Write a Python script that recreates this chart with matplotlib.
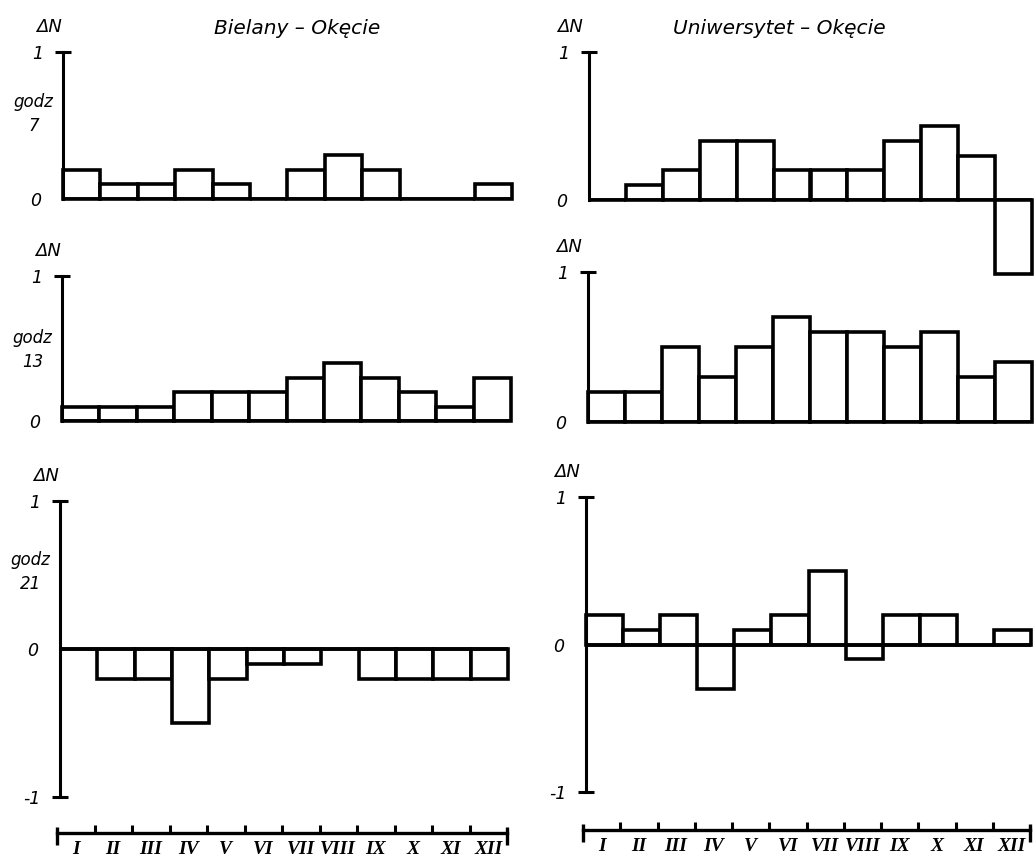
import numpy as np
import matplotlib
matplotlib.use("Agg")
import matplotlib.pyplot as plt

# monthly differences of cloudiness (delta N)
months = ["I", "II", "III", "IV", "V", "VI", "VII", "VIII", "IX", "X", "XI", "XII"]
bielany_7 = [0.2, 0.1, 0.1, 0.2, 0.1, 0.0, 0.2, 0.3, 0.2, 0.0, 0.0, 0.1]
bielany_13 = [0.1, 0.1, 0.1, 0.2, 0.2, 0.2, 0.3, 0.4, 0.3, 0.2, 0.1, 0.3]
bielany_21 = [0.0, -0.2, -0.2, -0.5, -0.2, -0.1, -0.1, 0.0, -0.2, -0.2, -0.2, -0.2]
uniw_7 = [0.0, 0.1, 0.2, 0.4, 0.4, 0.2, 0.2, 0.2, 0.4, 0.5, 0.3, -0.5]
uniw_13 = [0.2, 0.2, 0.5, 0.3, 0.5, 0.7, 0.6, 0.6, 0.5, 0.6, 0.3, 0.4]
uniw_21 = [0.2, 0.1, 0.2, -0.3, 0.1, 0.2, 0.5, -0.1, 0.2, 0.2, 0.0, 0.1]
titles = ["Bielany – Okęcie", "Uniwersytet – Okęcie"]
hours = ["7", "13", "21"]

W, H = 1034, 864
fig = plt.figure(figsize=(W / 100, H / 100), dpi=100)
txt = dict(family="DejaVu Sans", style="italic", fontsize=12, color="black")
LW = 2.6


def px_axes(x0, x1, ytop, ybot):
    return fig.add_axes([x0 / W, 1 - ybot / H, (x1 - x0) / W, (ybot - ytop) / H])


def panel(ax, vals, bottom_panel, dn_dx):
    x = np.arange(len(vals))
    ax.bar(x, vals, width=1, align="edge", color="white", edgecolor="black",
           linewidth=LW, clip_on=False, zorder=2)
    ax.axhline(0, color="black", lw=LW, zorder=3, solid_capstyle="butt")
    ax.set_xlim(0, 12)
    if bottom_panel:
        ax.set_ylim(-1, 1)
        ax.set_yticks([-1, 1], labels=["-1", "1"])
    else:
        ax.set_ylim(0, 1)
        ax.set_yticks([1], labels=["1"])
    ax.set_yticks([0], labels=["0"], minor=True)
    for s in ["top", "right", "bottom"]:
        ax.spines[s].set_visible(False)
    ax.spines["left"].set_linewidth(2.2)
    ax.spines["left"].set_bounds(*ax.get_ylim())
    ax.set_xticks([])
    ax.tick_params(axis="y", which="major", direction="inout", length=12,
                   width=2.2, pad=8)
    ax.tick_params(axis="y", which="minor", length=0, pad=16)
    for lab in ax.get_yticklabels() + ax.get_yticklabels(minor=True):
        lab.set_fontstyle("italic")
        lab.set_fontsize(12.5)
    ax.annotate("ΔN", xy=(0, 1), xycoords=("axes fraction", "data"),
                xytext=(dn_dx, 18), textcoords="offset points",
                ha="right", va="center", **{**txt, "fontsize": 13})
    ax.patch.set_visible(False)


# pixel geometry of panels: (x0, x1, y of +1, y of 0 or -1)
left = [(63, 512, 52, 199), (62, 511, 276, 421), (60, 508, 501, 797)]
right = [(589, 1032, 52, 200), (588, 1032, 272, 422), (586, 1031, 497, 792)]
data_left = [bielany_7, bielany_13, bielany_21]
data_right = [uniw_7, uniw_13, uniw_21]
godz_y = [0.58, 0.49, 0.76]

for col, (geo, datas) in enumerate([(left, data_left), (right, data_right)]):
    for i, (g, vals) in enumerate(zip(geo, datas)):
        ax = px_axes(*g)
        panel(ax, vals, i == 2, -1 if col == 0 else -4)
        if col == 0:
            ax.text(-0.066, godz_y[i], "godz\n" + hours[i], transform=ax.transAxes,
                    ha="center", va="center", linespacing=1.45, **txt)

title_kw = {**txt, "fontsize": 14.5}
fig.text(297 / W, 1 - 29 / H, titles[0], ha="center", va="center", **title_kw)
fig.text(779 / W, 1 - 29 / H, titles[1], ha="center", va="center", **title_kw)

# month scales under the bottom panels
for x0, x1, y in [(57, 507, 833), (583, 1030, 830)]:
    m = px_axes(x0, x1, y - 20, y)
    m.set_xlim(0, 12)
    m.set_ylim(0, 1)
    for s in ["top", "right", "left"]:
        m.spines[s].set_visible(False)
    m.spines["bottom"].set_linewidth(2.4)
    m.set_yticks([])
    m.set_xticks(range(1, 12), labels=[""] * 11)
    m.tick_params(axis="x", which="major", direction="in", length=6, width=2.2)
    m.set_xticks(np.arange(12) + 0.5, labels=months, minor=True)
    m.tick_params(axis="x", which="minor", length=0, pad=6)
    for lab in m.get_xticklabels(minor=True):
        lab.set_fontfamily("Liberation Serif")
        lab.set_fontstyle("italic")
        lab.set_fontweight("bold")
        lab.set_fontsize(14)
    m.vlines([0, 12], -0.6, 0.3, color="black", lw=2.4, clip_on=False)
    m.patch.set_visible(False)

fig.savefig("out.png", dpi=100, facecolor="white")
